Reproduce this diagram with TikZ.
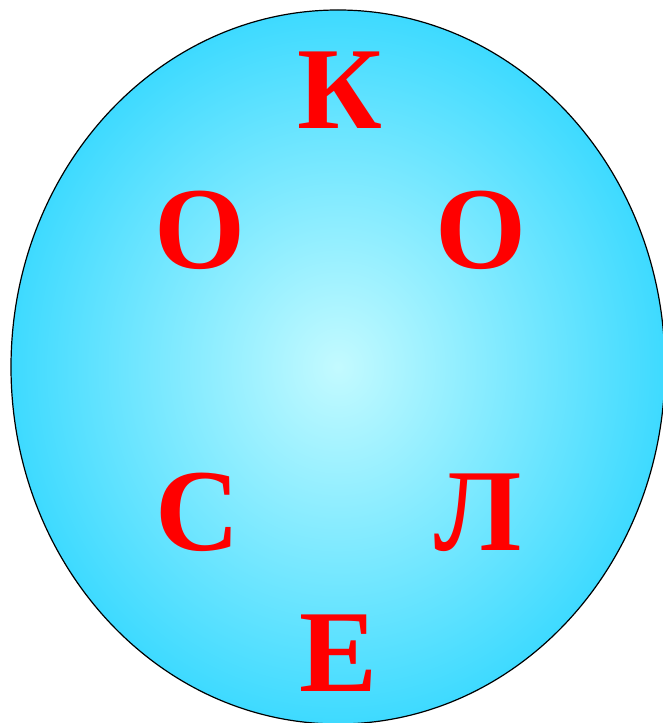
\documentclass[tikz,border=0pt]{standalone}
\usepackage{fontspec}
\setmainfont{Liberation Serif}
\usepackage{xcolor}
\usetikzlibrary{calc}
\definecolor{ballin}{RGB}{195,250,255}
\definecolor{ballout}{RGB}{62,218,255}
\tikzset{letter/.style={text=red, font=\fontsize{117}{120}\selectfont\bfseries, anchor=base, inner sep=0pt}}

\begin{document}
\begin{tikzpicture}[x=1pt,y=1pt]
\useasboundingbox (0,0) rectangle (663,723);
\shadedraw[inner color=ballin, outer color=ballout, draw=black, line width=1.2] (338,356) ellipse [x radius=327, y radius=357];
% letters round the ball
\foreach \ch/\x/\y/\nm in {К/340/594/k, О/200/454/ol, О/480.5/454/or, С/198/172/s, Л/478.5/172/l, Е/339/31.5/e} {
\node[letter] (\nm) at (\x,\y) {\ch};
}
\end{tikzpicture}
\end{document}
